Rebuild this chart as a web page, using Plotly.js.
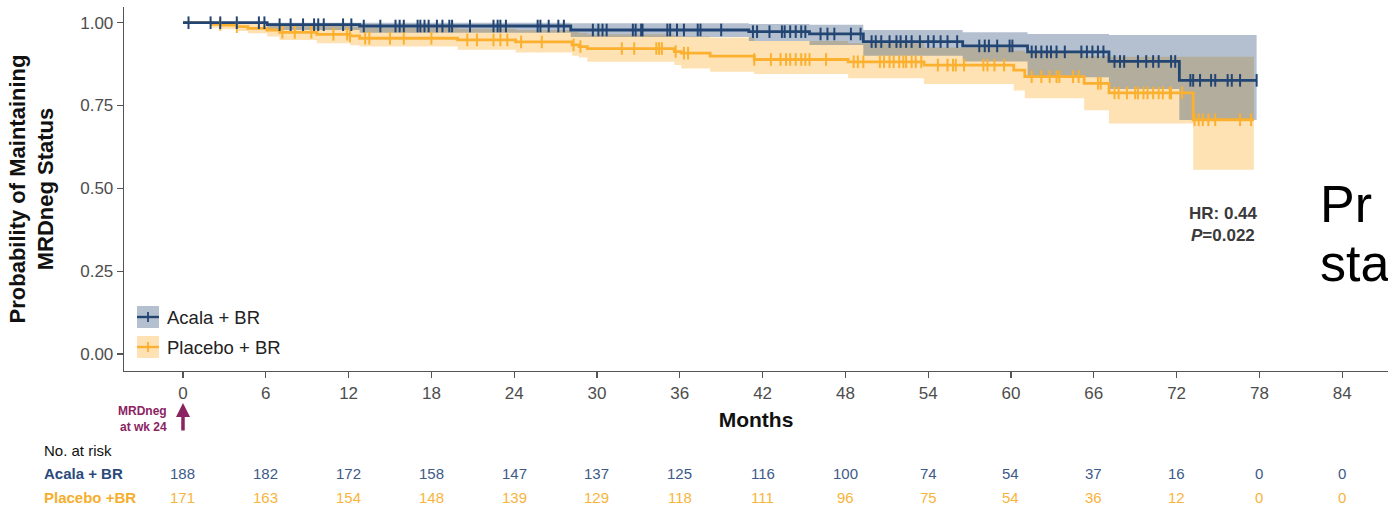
<!DOCTYPE html>
<html>
<head>
<meta charset="utf-8">
<script src="https://cdn.plot.ly/plotly-3.0.1.min.js"></script>
<style>html,body{margin:0;padding:0;background:#fff;}#chart{width:1388px;height:507px;}</style>
</head>
<body>
<div id="chart"></div>
<script>
// ---------- data ----------
const acalaTime  = [0, 6.1, 12.8, 28.1, 41.0, 45.4, 49.3, 56.5, 61.2, 67.1, 72.2, 77.8];
const acalaSurv  = [1.0, 0.994, 0.99, 0.978, 0.973, 0.966, 0.943, 0.93, 0.912, 0.883, 0.826, 0.826];
const acalaUpper = [1.0, 1.0, 1.0, 0.998, 0.996, 0.994, 0.978, 0.971, 0.966, 0.963, 0.963, 0.963];
const acalaLower = [1.0, 0.978, 0.97, 0.957, 0.945, 0.933, 0.90, 0.883, 0.835, 0.80, 0.706, 0.706];

const placeboTime  = [0, 2.1, 2.8, 3.9, 4.7, 6.1, 7.0, 9.7, 12.1, 12.8, 19.9, 24.1, 28.2, 28.7, 29.3, 35.6, 36.1, 38.2, 41.4, 48.2, 53.7, 60.2, 61.0, 65.3, 67.1, 73.2, 77.6];
const placeboSurv  = [1.0, 0.995, 0.993, 0.988, 0.983, 0.978, 0.971, 0.965, 0.96, 0.953, 0.948, 0.942, 0.933, 0.928, 0.922, 0.913, 0.908, 0.899, 0.889, 0.882, 0.872, 0.857, 0.837, 0.817, 0.788, 0.707, 0.707];
const placeboLower = [1.0, 0.985, 0.98, 0.975, 0.968, 0.958, 0.948, 0.938, 0.932, 0.928, 0.918, 0.91, 0.90, 0.895, 0.882, 0.872, 0.862, 0.852, 0.845, 0.832, 0.815, 0.795, 0.772, 0.736, 0.696, 0.556, 0.556];
const placeboUpper = [1.0, 1.0, 1.0, 1.0, 0.999, 0.997, 0.993, 0.99, 0.988, 0.985, 0.982, 0.978, 0.972, 0.969, 0.965, 0.96, 0.958, 0.955, 0.945, 0.938, 0.925, 0.915, 0.91, 0.90, 0.897, 0.897, 0.897];

const acalaCensor = [0.4, 2.0, 2.7, 3.9, 5.5, 5.9, 7.0, 7.8, 8.7, 9.5, 9.8, 10.2, 11.6, 12.2, 13.1, 14.3, 15.4, 15.7, 16.0, 17.0, 17.2, 17.5, 17.8, 18.4, 18.8, 19.3, 19.5, 20.8, 22.5, 22.8, 23.0, 23.4, 25.7, 25.9, 26.5, 27.2, 27.6, 29.7, 30.1, 30.4, 30.7, 32.6, 32.8, 33.2, 33.3, 35.1, 35.3, 35.8, 36.3, 37.3, 37.5, 39.0, 41.3, 41.6, 42.5, 43.4, 43.6, 44.0, 44.4, 44.8, 45.1, 46.2, 46.7, 47.2, 48.4, 49.1, 49.9, 50.2, 50.6, 51.2, 51.7, 52.0, 52.4, 52.8, 53.4, 54.0, 54.4, 54.9, 55.4, 56.1, 57.7, 58.1, 58.4, 59.0, 59.9, 60.1, 61.5, 61.8, 62.2, 62.6, 62.9, 63.3, 63.9, 65.1, 65.5, 65.9, 66.3, 66.7, 67.5, 67.9, 68.2, 69.2, 69.8, 70.3, 70.7, 71.6, 71.9, 73.0, 73.2, 73.7, 74.5, 74.8, 75.7, 76.0, 76.6, 77.8];
const placeboCensor = [2.7, 3.9, 7.2, 8.1, 9.3, 10.9, 11.9, 12.1, 13.2, 13.5, 15.0, 16.0, 18.0, 20.6, 21.3, 22.5, 23.0, 23.5, 24.5, 26.0, 28.3, 28.8, 31.8, 32.7, 34.3, 34.5, 34.7, 35.7, 36.3, 36.6, 41.4, 42.6, 43.3, 43.7, 44.0, 44.4, 44.8, 45.1, 45.4, 46.6, 48.6, 48.9, 49.3, 50.5, 50.8, 51.2, 51.5, 51.9, 52.2, 52.4, 52.8, 53.1, 53.5, 54.7, 55.4, 55.8, 56.0, 56.6, 58.0, 58.3, 58.8, 59.5, 61.5, 62.2, 62.8, 63.3, 63.5, 64.5, 64.9, 66.3, 66.5, 67.5, 67.8, 68.4, 69.0, 69.2, 69.6, 69.9, 70.3, 70.7, 71.0, 71.5, 71.6, 72.4, 73.3, 73.6, 73.9, 74.3, 74.8, 76.6, 77.4];

const riskTimes   = [0, 6, 12, 18, 24, 30, 36, 42, 48, 54, 60, 66, 72, 78, 84];
const riskAcala   = [188, 182, 172, 158, 147, 137, 125, 116, 100, 74, 54, 37, 16, 0, 0];
const riskPlacebo = [171, 163, 154, 148, 139, 129, 118, 111, 96, 75, 54, 36, 12, 0, 0];

const groupNames = ["Acala + BR", "Placebo + BR"];
const riskRowNames = ["Acala + BR", "Placebo +BR"];
const hrText = "HR: 0.44";
const pText = "<i>P</i>=0.022";

// ---------- styling ----------
const FONT = "Liberation Sans, Arial, Helvetica, sans-serif";
const BLUE = "#234573", BLUE_BAND = "rgba(35,69,115,0.34)";
const ORANGE = "#fbb030", ORANGE_BAND = "rgba(251,176,48,0.36)";
const PURPLE = "#8b2362";

function survAt(times, surv, t) {
  let v = surv[0];
  for (let i = 0; i < times.length; i++) if (times[i] <= t) v = surv[i];
  return v;
}

const traces = [
  {x: placeboTime, y: placeboLower, mode: "lines", line: {width: 0, shape: "hv"}, hoverinfo: "skip", showlegend: false},
  {x: placeboTime, y: placeboUpper, mode: "lines", line: {width: 0, shape: "hv"}, fill: "tonexty", fillcolor: ORANGE_BAND, hoverinfo: "skip", showlegend: false},
  {x: acalaTime, y: acalaLower, mode: "lines", line: {width: 0, shape: "hv"}, hoverinfo: "skip", showlegend: false},
  {x: acalaTime, y: acalaUpper, mode: "lines", line: {width: 0, shape: "hv"}, fill: "tonexty", fillcolor: BLUE_BAND, hoverinfo: "skip", showlegend: false},
  {x: placeboTime, y: placeboSurv, mode: "lines", name: groupNames[1], line: {color: ORANGE, width: 2.8, shape: "hv"}, showlegend: false},
  {x: acalaTime, y: acalaSurv, mode: "lines", name: groupNames[0], line: {color: BLUE, width: 2.8, shape: "hv"}, showlegend: false},
  {x: placeboCensor, y: placeboCensor.map(t => survAt(placeboTime, placeboSurv, t)), mode: "markers", showlegend: false,
   marker: {symbol: "line-ns-open", size: 9, color: ORANGE, line: {color: ORANGE, width: 2}}},
  {x: acalaCensor, y: acalaCensor.map(t => survAt(acalaTime, acalaSurv, t)), mode: "markers", showlegend: false,
   marker: {symbol: "line-ns-open", size: 9, color: BLUE, line: {color: BLUE, width: 2}}}
];

// pixel helpers for text placement (plot area: x 124..1388, y 7..371)
const xp = px => (px - 124) / 1264;
const yp = py => (371 - py) / 364;

const annotations = [];
// HR / P text
annotations.push({xref: "paper", yref: "paper", x: xp(1223), y: yp(213), text: "<b>" + hrText + "</b>", showarrow: false,
  font: {family: FONT, size: 17, color: "#3a3a3a"}, xanchor: "center", yanchor: "middle"});
annotations.push({xref: "paper", yref: "paper", x: xp(1223), y: yp(235), text: "<b>" + pText + "</b>", showarrow: false,
  font: {family: FONT, size: 17, color: "#3a3a3a"}, xanchor: "center", yanchor: "middle"});
// cut-off slide text on the right
annotations.push({xref: "paper", yref: "paper", x: xp(1318), y: yp(204), text: "Pr", showarrow: false,
  font: {family: FONT, size: 52, color: "#000"}, xanchor: "left", yanchor: "middle"});
annotations.push({xref: "paper", yref: "paper", x: xp(1318), y: yp(263), text: "sta", showarrow: false,
  font: {family: FONT, size: 52, color: "#000"}, xanchor: "left", yanchor: "middle"});
// legend text
annotations.push({xref: "paper", yref: "paper", x: xp(165), y: yp(317), text: groupNames[0], showarrow: false,
  font: {family: FONT, size: 18.5, color: "#222"}, xanchor: "left", yanchor: "middle"});
annotations.push({xref: "paper", yref: "paper", x: xp(165), y: yp(347), text: groupNames[1], showarrow: false,
  font: {family: FONT, size: 18.5, color: "#222"}, xanchor: "left", yanchor: "middle"});
// MRDneg arrow
annotations.push({xref: "x", yref: "paper", x: 0, y: yp(403), ax: 0, ay: 29, text: "", showarrow: true,
  arrowhead: 2, arrowsize: 0.8, arrowwidth: 3.5, arrowcolor: PURPLE, standoff: 0});
annotations.push({xref: "paper", yref: "paper", x: xp(169), y: yp(419), text: "<b>MRDneg</b><br><b>at wk 24</b>", showarrow: false,
  font: {family: FONT, size: 12, color: PURPLE}, xanchor: "right", yanchor: "middle", align: "right"});
// risk table
annotations.push({xref: "paper", yref: "paper", x: xp(42), y: yp(450), text: "No. at risk", showarrow: false,
  font: {family: FONT, size: 15, color: "#111"}, xanchor: "left", yanchor: "middle"});
annotations.push({xref: "paper", yref: "paper", x: xp(42), y: yp(474), text: "<b>" + riskRowNames[0] + "</b>", showarrow: false,
  font: {family: FONT, size: 15, color: "#2b4a7a"}, xanchor: "left", yanchor: "middle"});
annotations.push({xref: "paper", yref: "paper", x: xp(42), y: yp(497), text: "<b>" + riskRowNames[1] + "</b>", showarrow: false,
  font: {family: FONT, size: 15, color: "#f6ae2d"}, xanchor: "left", yanchor: "middle"});
riskTimes.forEach((t, i) => {
  annotations.push({xref: "x", yref: "paper", x: t, y: yp(474), text: String(riskAcala[i]), showarrow: false,
    font: {family: FONT, size: 15, color: "#3d5a88"}, xanchor: "center", yanchor: "middle"});
  annotations.push({xref: "x", yref: "paper", x: t, y: yp(497), text: String(riskPlacebo[i]), showarrow: false,
    font: {family: FONT, size: 15, color: "#f8b43c"}, xanchor: "center", yanchor: "middle"});
});

// legend symbols (boxes + line + tick)
const shapes = [];
[[317, BLUE, BLUE_BAND], [347, ORANGE, ORANGE_BAND]].forEach(([cy, c, band]) => {
  shapes.push({type: "rect", xref: "paper", yref: "paper", x0: xp(137), x1: xp(159), y0: yp(cy + 11), y1: yp(cy - 11),
    fillcolor: band, line: {width: 0}});
  shapes.push({type: "line", xref: "paper", yref: "paper", x0: xp(137), x1: xp(159), y0: yp(cy), y1: yp(cy),
    line: {color: c, width: 2.4}});
  shapes.push({type: "line", xref: "paper", yref: "paper", x0: xp(148), x1: xp(148), y0: yp(cy - 5), y1: yp(cy + 5),
    line: {color: c, width: 1.8}});
});

const layout = {
  width: 1388, height: 507,
  margin: {l: 124, r: 0, t: 7, b: 136, pad: 0},
  paper_bgcolor: "#fff", plot_bgcolor: "#fff",
  font: {family: FONT},
  showlegend: false,
  xaxis: {
    range: [-4.275, 87.32], tickmode: "array", tickvals: riskTimes, ticktext: riskTimes.map(String),
    showgrid: false, zeroline: false, showline: true, linecolor: "#555", linewidth: 1.3,
    ticks: "outside", ticklen: 6, tickcolor: "#555", tickwidth: 1.2,
    tickfont: {family: FONT, size: 17, color: "#4d4d4d"},
    title: {text: "<b>Months</b>", font: {family: FONT, size: 21, color: "#111"}, standoff: 10}
  },
  yaxis: {
    range: [-0.0513, 1.0474], tickmode: "array", tickvals: [0, 0.25, 0.5, 0.75, 1.0],
    ticktext: ["0.00", "0.25", "0.50", "0.75", "1.00"],
    showgrid: false, zeroline: false, showline: true, linecolor: "#555", linewidth: 1.3,
    ticks: "outside", ticklen: 6, tickcolor: "#555", tickwidth: 1.2,
    tickfont: {family: FONT, size: 17, color: "#4d4d4d"},
    title: {text: "<b>Probability of Maintaining</b><br><b>MRDneg Status</b>", font: {family: FONT, size: 22, color: "#111"}, standoff: 20}
  },
  annotations: annotations,
  shapes: shapes
};

Plotly.newPlot("chart", traces, layout, {displayModeBar: false, staticPlot: true});
</script>
</body>
</html>
